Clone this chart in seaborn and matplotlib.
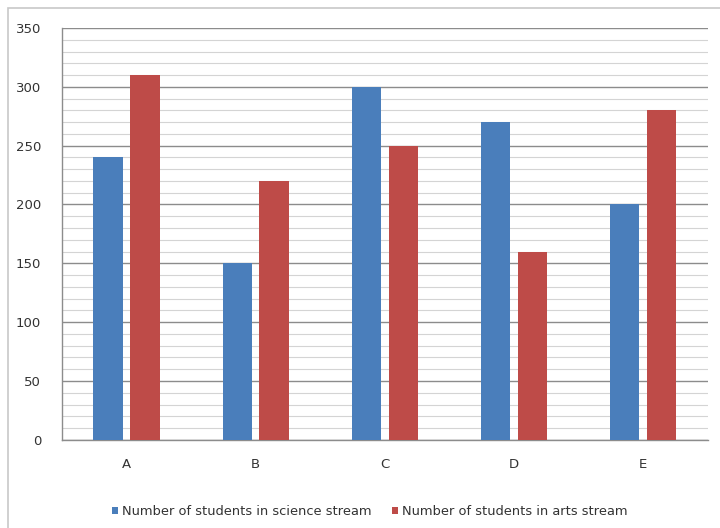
import pandas as pd
import matplotlib.pyplot as plt
import seaborn as sns
from matplotlib.patches import Rectangle
from matplotlib.ticker import MultipleLocator

# === Data ===
colleges = ["A", "B", "C", "D", "E"]
science = [240, 150, 300, 270, 200]
arts = [310, 220, 250, 160, 280]
series_names = ["Number of students in science stream",
                "Number of students in arts stream"]

df = pd.DataFrame({
    "college": colleges * 2,
    "students": science + arts,
    "stream": [series_names[0]] * 5 + [series_names[1]] * 5,
})

sns.set_style("white")
plt.rcParams["font.family"] = ["DejaVu Sans"]

fig = plt.figure(figsize=(7.2, 5.28), dpi=100)
ax = fig.add_axes([0.086, 0.167, 0.897, 0.78])

# outer chart frame (light gray)
fig.patches.append(Rectangle((8 / 720, -0.05), 1.2, (528 - 8) / 528 + 0.05,
                             transform=fig.transFigure, fill=False,
                             edgecolor="#c8c8c8", linewidth=1.2, zorder=0))

sns.barplot(data=df, x="college", y="students", hue="stream",
            palette=["#4a7ebb", "#be4b48"], width=0.57, gap=0.2,
            saturation=1, linewidth=0, edgecolor="none", ax=ax, zorder=3)

ax.set_ylim(0, 350)
ax.set_xlim(-0.5, 4.5)
ax.yaxis.set_major_locator(MultipleLocator(50))
ax.yaxis.set_minor_locator(MultipleLocator(10))
ax.grid(which="major", axis="y", color="#8c8c8c", linewidth=1.0, zorder=0)
ax.grid(which="minor", axis="y", color="#d4d4d4", linewidth=0.8, zorder=0)
ax.set_axisbelow(True)

for side in ["top", "right"]:
    ax.spines[side].set_visible(False)
for side in ["left", "bottom"]:
    ax.spines[side].set_color("#8c8c8c")
    ax.spines[side].set_linewidth(1.0)

ax.tick_params(axis="both", which="both", length=0, labelsize=9.5,
               colors="#333333")
ax.tick_params(axis="y", pad=15)
ax.tick_params(axis="x", pad=13)
ax.set_xlabel("")
ax.set_ylabel("")

ax.legend(title=None, loc="upper center", bbox_to_anchor=(0.477, -0.13),
          ncol=2, frameon=False, fontsize=9.4, handlelength=0.45,
          handleheight=0.45, handletextpad=0.3, columnspacing=1.6,
          labelcolor="#333333")

plt.savefig("out.png", dpi=100)
